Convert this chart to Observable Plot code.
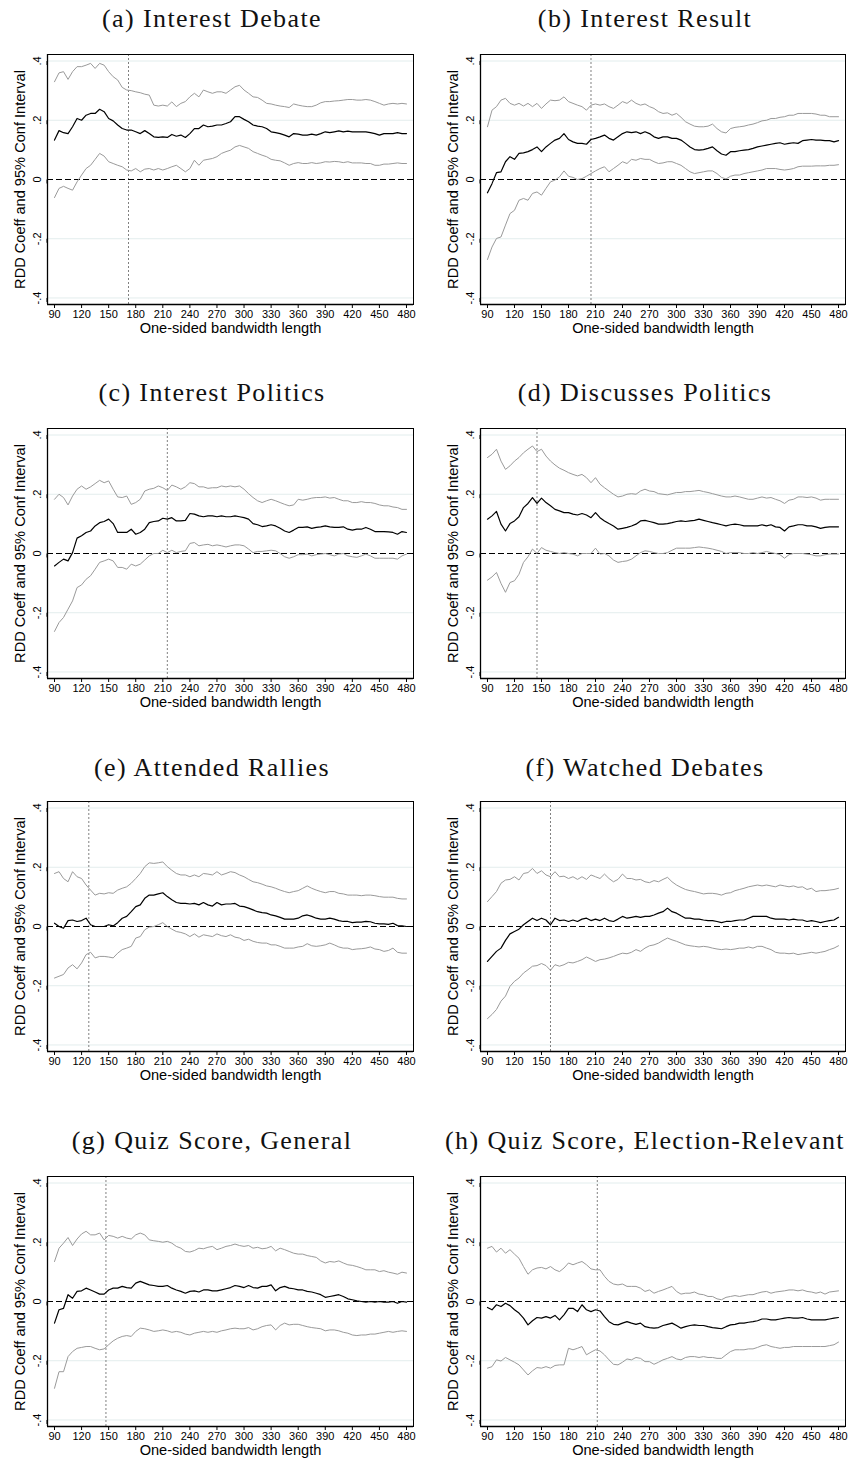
<!DOCTYPE html>
<html><head><meta charset="utf-8">
<script src="https://cdn.jsdelivr.net/npm/d3@7"></script>
<script src="https://cdn.jsdelivr.net/npm/@observablehq/plot@0.6"></script>
<style>
html,body{margin:0;padding:0;background:#fff;overflow:hidden}
#fig{position:relative;width:849px;height:1460px;background:#fff}
.title{position:absolute;font-family:"Liberation Serif","Times New Roman",serif;font-size:26px;letter-spacing:1.4px;white-space:nowrap;transform:translate(-50%,-50%);line-height:1;color:#111}
.panel{position:absolute}
</style></head><body><div id="fig"></div><script>
// shared x grid (one-sided bandwidth length)
const bandwidth = [90,95,100,105,110,115,120,125,130,135,
140,145,150,155,160,165,170,175,180,185,
190,195,200,205,210,215,220,225,230,235,
240,245,250,255,260,265,270,275,280,285,
290,295,300,305,310,315,320,325,330,335,
340,345,350,355,360,365,370,375,380,385,
390,395,400,405,410,415,420,425,430,435,
440,445,450,455,460,465,470,475,480];
const xTicks = [90,120,150,180,210,240,270,300,330,360,390,420,450,480];
const yTicks = [-0.4,-0.2,0,0.2,0.4];
const gridLines = [-0.4,-0.2,0.2,0.4];
const xLabel = "One-sided bandwidth length";
const yLabel = "RDD Coeff and 95% Conf Interval";
const titles = ["(a) Interest Debate","(b) Interest Result","(c) Interest Politics","(d) Discusses Politics",
"(e) Attended Rallies","(f) Watched Debates","(g) Quiz Score, General","(h) Quiz Score, Election-Relevant"];
const optimalBandwidth = [172,205,215,145,128,160,147,212];

// (a) Interest Debate
const a_hi = [.330,.360,.364,.338,.364,.381,.381,.386,.392,.375,
.392,.386,.364,.347,.336,.311,.302,.300,.296,.293,
.288,.285,.251,.248,.251,.248,.262,.246,.257,.263,
.279,.291,.279,.302,.296,.291,.296,.296,.291,.302,
.313,.318,.302,.291,.279,.277,.268,.257,.255,.251,
.248,.246,.243,.255,.251,.248,.246,.246,.251,.259,
.263,.263,.265,.266,.268,.270,.270,.268,.268,.270,
.268,.263,.257,.251,.255,.257,.255,.257,.255];
const a_mid = [.133,.165,.158,.155,.178,.206,.200,.217,.223,.223,
.237,.229,.206,.198,.184,.172,.167,.167,.161,.155,
.165,.155,.144,.142,.144,.142,.152,.146,.150,.142,
.155,.172,.172,.184,.178,.180,.184,.184,.189,.195,
.212,.212,.203,.195,.184,.180,.178,.172,.161,.158,
.155,.150,.144,.155,.153,.150,.150,.153,.150,.155,
.161,.158,.161,.164,.161,.163,.161,.161,.161,.161,
.158,.155,.150,.155,.155,.155,.158,.155,.155];
const a_lo = [-.061,-.030,-.023,-.030,-.036,-.008,.015,.037,.048,.068,
.088,.079,.060,.054,.048,.043,.032,.029,.037,.026,
.035,.037,.032,.037,.032,.037,.043,.048,.037,.026,
.037,.065,.048,.065,.068,.071,.077,.088,.094,.099,
.110,.115,.110,.105,.094,.088,.082,.077,.068,.065,
.063,.056,.048,.054,.057,.054,.054,.057,.054,.056,
.060,.059,.061,.060,.057,.060,.056,.056,.056,.054,
.054,.048,.048,.052,.052,.054,.056,.054,.054];

// (b) Interest Result
const b_hi = [.178,.234,.246,.268,.274,.257,.251,.257,.248,.257,
.246,.257,.240,.255,.268,.266,.268,.279,.263,.257,
.251,.246,.234,.251,.255,.251,.255,.246,.240,.251,
.263,.257,.268,.257,.251,.255,.246,.240,.229,.223,
.225,.217,.223,.210,.195,.187,.180,.178,.178,.180,
.187,.172,.161,.157,.172,.176,.178,.180,.184,.187,
.192,.198,.200,.206,.206,.210,.212,.217,.217,.223,
.223,.223,.223,.221,.217,.217,.212,.212,.212];
const b_mid = [-.045,-.014,.023,.026,.060,.077,.068,.088,.090,.094,
.101,.110,.094,.110,.122,.133,.139,.155,.135,.127,
.122,.122,.119,.135,.139,.144,.150,.139,.133,.144,
.155,.161,.158,.161,.155,.161,.155,.144,.139,.144,
.144,.139,.139,.133,.122,.110,.101,.099,.101,.105,
.110,.097,.086,.082,.094,.094,.097,.099,.101,.105,
.110,.113,.116,.119,.122,.124,.119,.122,.124,.122,
.131,.133,.135,.133,.133,.131,.131,.127,.131];
const b_lo = [-.270,-.228,-.199,-.194,-.154,-.115,-.104,-.070,-.064,-.070,
-.047,-.042,-.053,-.030,-.008,-.002,.009,.029,.011,.007,
.000,.003,.011,.020,.029,.037,.043,.026,.037,.048,
.060,.054,.068,.065,.071,.068,.068,.060,.054,.056,
.060,.060,.054,.048,.037,.026,.020,.023,.026,.029,
.029,.020,.007,.002,.011,.015,.015,.020,.023,.026,
.029,.032,.037,.037,.037,.034,.032,.034,.037,.043,
.045,.045,.045,.046,.046,.046,.048,.048,.050];

// (c) Interest Politics
const c_hi = [.183,.200,.189,.164,.194,.217,.228,.217,.225,.236,
.247,.239,.245,.217,.191,.189,.194,.166,.172,.183,
.211,.217,.220,.228,.222,.213,.231,.225,.217,.225,
.239,.236,.225,.225,.220,.222,.222,.228,.225,.228,
.225,.228,.217,.202,.189,.178,.172,.178,.183,.178,
.172,.166,.161,.164,.183,.180,.183,.187,.189,.189,
.191,.187,.189,.183,.178,.178,.172,.172,.175,.172,
.172,.169,.164,.161,.161,.157,.155,.149,.149];
const c_mid = [-.042,-.030,-.019,-.025,.003,.052,.060,.071,.076,.093,
.104,.108,.116,.101,.071,.071,.071,.082,.065,.071,
.082,.104,.108,.110,.119,.116,.121,.110,.110,.112,
.135,.133,.127,.124,.127,.127,.124,.127,.124,.124,
.127,.124,.121,.116,.101,.097,.091,.093,.097,.093,
.085,.076,.071,.079,.088,.088,.090,.085,.088,.090,
.093,.090,.088,.088,.090,.082,.079,.082,.082,.088,
.082,.074,.074,.074,.073,.071,.065,.074,.071];
const c_lo = [-.263,-.233,-.216,-.188,-.160,-.115,-.106,-.087,-.075,-.053,
-.030,-.025,-.019,-.025,-.047,-.047,-.053,-.036,-.042,-.036,
-.022,-.008,.000,.000,.011,.003,.011,.003,.007,.009,
.034,.037,.026,.029,.031,.026,.029,.026,.022,.026,
.029,.029,.026,.015,.003,.007,.007,.009,.011,.009,
.000,-.011,-.016,-.011,-.004,-.004,-.002,-.008,-.004,-.002,
.000,-.004,-.008,-.002,.000,-.008,-.011,-.013,-.008,-.002,
-.008,-.016,-.016,-.016,-.016,-.016,-.019,-.008,-.002];

// (d) Discusses Politics
const d_hi = [.324,.335,.352,.312,.284,.296,.312,.324,.340,.352,
.363,.344,.352,.329,.312,.299,.288,.281,.273,.267,
.262,.267,.256,.239,.256,.234,.222,.211,.200,.191,
.194,.200,.202,.200,.211,.217,.211,.209,.202,.200,
.198,.202,.206,.206,.209,.209,.211,.213,.209,.206,
.202,.198,.194,.191,.191,.194,.191,.187,.183,.183,
.187,.191,.187,.189,.183,.178,.169,.180,.183,.191,
.191,.189,.191,.187,.180,.183,.183,.183,.183];
const d_mid = [.116,.127,.142,.099,.076,.101,.110,.124,.155,.169,
.189,.169,.187,.172,.161,.149,.144,.138,.138,.133,
.130,.135,.130,.121,.138,.121,.110,.101,.093,.082,
.085,.088,.093,.099,.110,.112,.108,.104,.099,.099,
.101,.104,.108,.110,.108,.110,.112,.116,.112,.108,
.104,.101,.097,.093,.097,.099,.097,.093,.093,.093,
.093,.097,.093,.097,.090,.088,.076,.090,.093,.097,
.097,.093,.093,.090,.085,.088,.090,.090,.090];
const d_lo = [-.090,-.079,-.064,-.101,-.131,-.098,-.092,-.070,-.030,-.011,
.015,.000,.020,.011,.007,.003,.000,.003,.000,-.002,
-.008,.000,.000,.000,.018,-.002,.000,-.008,-.022,-.030,
-.027,-.025,-.019,-.008,.003,.009,.007,.003,.000,.000,
.003,.011,.018,.018,.018,.018,.020,.022,.020,.018,
.015,.011,.007,.000,.003,.003,.003,.000,.000,.003,
.000,.003,.007,.003,.000,-.004,-.016,-.004,.000,.000,
.000,-.002,-.004,-.008,-.008,-.004,-.002,-.002,-.002];

// (e) Attended Rallies
const e_hi = [.179,.185,.162,.151,.185,.168,.162,.140,.123,.106,
.112,.110,.114,.112,.123,.129,.134,.146,.162,.179,
.202,.215,.213,.215,.218,.202,.190,.179,.174,.174,
.168,.174,.168,.179,.177,.174,.185,.174,.179,.185,
.182,.174,.168,.159,.151,.148,.143,.137,.134,.129,
.123,.118,.114,.118,.121,.129,.137,.129,.123,.118,
.114,.118,.118,.112,.110,.106,.106,.106,.104,.106,
.106,.104,.101,.099,.099,.099,.095,.093,.093];
const e_mid = [.011,.000,-.006,.020,.022,.017,.020,.028,.006,.000,
.000,.000,.006,.002,.013,.028,.034,.050,.067,.073,
.095,.106,.106,.110,.114,.101,.090,.081,.078,.078,
.076,.078,.073,.081,.073,.069,.081,.073,.076,.076,
.078,.069,.067,.062,.056,.050,.047,.045,.039,.036,
.031,.025,.025,.025,.028,.036,.039,.034,.028,.025,
.025,.028,.025,.020,.017,.017,.013,.015,.015,.017,
.016,.011,.009,.009,.007,.011,.003,.002,.000];
const e_lo = [-.174,-.168,-.162,-.140,-.129,-.143,-.123,-.095,-.087,-.106,
-.101,-.101,-.103,-.106,-.090,-.078,-.073,-.067,-.039,-.034,
-.011,-.002,.000,.006,.013,.000,-.009,-.017,-.020,-.025,
-.034,-.025,-.036,-.028,-.031,-.034,-.025,-.031,-.034,-.028,
-.036,-.039,-.047,-.043,-.050,-.054,-.056,-.056,-.062,-.062,
-.067,-.073,-.073,-.073,-.069,-.067,-.058,-.065,-.067,-.065,
-.062,-.056,-.062,-.069,-.073,-.073,-.078,-.076,-.075,-.073,
-.069,-.076,-.078,-.084,-.081,-.073,-.087,-.090,-.090];

// (f) Watched Debates
const f_hi = [.084,.101,.118,.146,.157,.159,.168,.157,.179,.182,
.196,.179,.188,.174,.168,.185,.168,.170,.162,.168,
.159,.168,.159,.174,.168,.162,.177,.162,.151,.159,
.177,.162,.162,.157,.159,.151,.148,.155,.151,.159,
.166,.151,.140,.132,.125,.121,.118,.114,.110,.112,
.112,.110,.106,.112,.114,.121,.125,.129,.134,.137,
.140,.137,.140,.137,.134,.140,.137,.134,.137,.132,
.134,.125,.129,.118,.121,.121,.123,.125,.129];
const f_mid = [-.118,-.101,-.084,-.073,-.047,-.025,-.017,-.009,.006,.017,
.028,.020,.028,.022,.006,.028,.020,.022,.017,.022,
.017,.025,.028,.020,.025,.020,.028,.020,.017,.025,
.034,.028,.031,.034,.031,.034,.034,.039,.045,.050,
.062,.050,.045,.036,.028,.028,.025,.025,.022,.020,
.020,.017,.013,.017,.017,.020,.022,.022,.028,.034,
.034,.034,.034,.028,.025,.025,.025,.022,.025,.022,
.022,.017,.020,.017,.013,.017,.020,.022,.031];
const f_lo = [-.311,-.297,-.280,-.252,-.235,-.202,-.185,-.174,-.157,-.146,
-.134,-.132,-.125,-.132,-.148,-.129,-.134,-.129,-.121,-.123,
-.118,-.112,-.103,-.110,-.118,-.112,-.110,-.106,-.101,-.095,
-.090,-.092,-.087,-.078,-.084,-.073,-.065,-.062,-.056,-.047,
-.039,-.045,-.050,-.056,-.062,-.065,-.067,-.069,-.067,-.069,
-.073,-.076,-.078,-.076,-.078,-.076,-.073,-.073,-.069,-.073,
-.067,-.067,-.073,-.078,-.087,-.090,-.090,-.092,-.090,-.095,
-.092,-.090,-.087,-.090,-.087,-.084,-.078,-.073,-.065];

// (g) Quiz Score, General
const g_hi = [.135,.180,.197,.216,.189,.211,.228,.237,.225,.225,
.231,.208,.223,.220,.214,.220,.214,.211,.225,.231,
.225,.208,.205,.203,.200,.203,.197,.186,.180,.169,
.167,.172,.180,.178,.183,.186,.175,.180,.186,.189,
.194,.189,.186,.189,.180,.183,.178,.180,.186,.171,
.180,.175,.169,.163,.160,.160,.155,.152,.149,.137,
.130,.135,.133,.137,.130,.124,.122,.118,.113,.107,
.107,.107,.101,.104,.099,.096,.092,.099,.096];
const g_mid = [-.073,-.028,-.023,.023,.011,.034,.036,.045,.039,.032,
.025,.025,.039,.045,.045,.051,.047,.045,.062,.068,
.062,.056,.054,.051,.051,.054,.045,.039,.034,.028,
.034,.036,.032,.039,.039,.036,.036,.039,.043,.047,
.054,.051,.047,.054,.047,.045,.051,.051,.056,.036,
.047,.051,.045,.043,.039,.039,.034,.032,.028,.023,
.014,.017,.020,.023,.017,.009,.006,.002,.000,-.002,
.000,-.002,.000,-.002,-.002,.000,-.006,.000,-.002];
const g_lo = [-.293,-.237,-.237,-.186,-.169,-.158,-.155,-.152,-.152,-.158,
-.163,-.160,-.146,-.133,-.124,-.118,-.115,-.118,-.101,-.090,
-.092,-.096,-.101,-.099,-.096,-.099,-.104,-.101,-.104,-.110,
-.113,-.107,-.104,-.101,-.104,-.101,-.104,-.099,-.096,-.092,
-.090,-.092,-.092,-.088,-.096,-.092,-.085,-.081,-.079,-.096,
-.081,-.073,-.079,-.077,-.077,-.081,-.085,-.088,-.090,-.092,
-.099,-.096,-.096,-.099,-.104,-.107,-.113,-.115,-.113,-.113,
-.110,-.110,-.107,-.104,-.101,-.104,-.101,-.099,-.101];

// (h) Quiz Score, Election-Relevant
const h_hi = [.180,.186,.167,.180,.163,.175,.160,.146,.118,.092,
.107,.113,.115,.110,.118,.107,.101,.113,.130,.124,
.130,.135,.124,.110,.107,.107,.085,.068,.059,.056,
.059,.051,.051,.051,.045,.034,.039,.028,.034,.039,
.045,.051,.034,.025,.028,.028,.032,.025,.023,.017,
.017,.009,.006,.014,.017,.020,.017,.020,.023,.023,
.028,.032,.034,.028,.032,.034,.036,.039,.039,.036,
.039,.034,.032,.028,.032,.025,.032,.034,.036];
const h_mid = [-.020,-.028,-.011,-.017,-.006,-.014,-.028,-.039,-.056,-.079,
-.065,-.054,-.056,-.051,-.056,-.047,-.062,-.045,-.023,-.023,
-.034,-.011,-.028,-.034,-.028,-.032,-.051,-.068,-.077,-.079,
-.073,-.068,-.073,-.077,-.073,-.085,-.088,-.090,-.088,-.081,
-.077,-.073,-.081,-.090,-.085,-.081,-.079,-.081,-.081,-.085,
-.088,-.090,-.092,-.085,-.079,-.077,-.073,-.073,-.070,-.068,
-.065,-.059,-.059,-.062,-.062,-.059,-.056,-.054,-.056,-.056,
-.054,-.059,-.062,-.062,-.062,-.062,-.059,-.056,-.054];
const h_lo = [-.225,-.220,-.197,-.201,-.189,-.197,-.205,-.214,-.231,-.248,
-.234,-.223,-.225,-.220,-.225,-.216,-.214,-.214,-.158,-.163,
-.158,-.152,-.180,-.171,-.163,-.167,-.180,-.197,-.212,-.214,
-.205,-.194,-.197,-.189,-.192,-.203,-.203,-.212,-.205,-.197,
-.192,-.186,-.194,-.197,-.189,-.186,-.186,-.189,-.186,-.189,
-.189,-.192,-.192,-.180,-.169,-.163,-.163,-.163,-.160,-.160,
-.155,-.149,-.146,-.152,-.155,-.158,-.155,-.155,-.152,-.152,
-.152,-.152,-.152,-.152,-.152,-.152,-.149,-.146,-.137];

const upper = [a_hi,b_hi,c_hi,d_hi,e_hi,f_hi,g_hi,h_hi];
const coef  = [a_mid,b_mid,c_mid,d_mid,e_mid,f_mid,g_mid,h_mid];
const lower = [a_lo,b_lo,c_lo,d_lo,e_lo,f_lo,g_lo,h_lo];

// layout
const frameTops = [54, 428, 801, 1176];
const titleYs = [19, 392.5, 767.5, 1141];
const fmt = d => d === 0 ? "0" : (d < 0 ? "-" : "") + String(Math.abs(d)).replace(/^0/, "");

const fig = document.getElementById("fig");

function makePanel(k) {
  const col = k % 2, row = Math.floor(k / 2);
  const data = bandwidth.map((b, i) => ({b, hi: upper[k][i], mid: coef[k][i], lo: lower[k][i]}));
  const ml = col === 0 ? 47 : 48, mr = col === 0 ? 12 : 4, w = col === 0 ? 425 : 417;
  const xDom = [82.24, 487.76], yDom = [-0.422, 0.422];
  const svg = Plot.plot({
    width: w, height: 292, marginTop: 10, marginBottom: 32, marginLeft: ml, marginRight: mr,
    style: {fontFamily: "'Liberation Sans', Arial, sans-serif", background: "transparent", overflow: "visible", color: "#000"},
    x: {domain: xDom},
    y: {domain: yDom},
    marks: [
      Plot.ruleY(gridLines, {stroke: "#e3eded", strokeWidth: 1}),
      Plot.ruleX([optimalBandwidth[k]], {stroke: "#808080", strokeDasharray: "2,2", strokeWidth: 1}),
      Plot.ruleY([0], {stroke: "#000", strokeDasharray: "6,3", strokeWidth: 1}),
      Plot.line(data, {x: "b", y: "hi", stroke: "#9a9a9a", strokeWidth: 1}),
      Plot.line(data, {x: "b", y: "lo", stroke: "#9a9a9a", strokeWidth: 1}),
      Plot.line(data, {x: "b", y: "mid", stroke: "#000", strokeWidth: 1.2}),
      Plot.frame({stroke: "#000", strokeWidth: 1}),
      Plot.ruleX([xDom[0]], {stroke: "#000", strokeWidth: 1.3}),
      Plot.ruleY([yDom[0]], {stroke: "#000", strokeWidth: 1.3}),
      Plot.axisX(xTicks, {tickSize: 4, tickPadding: 2, fontSize: 11, label: null, tickFormat: d => String(d)}),
      Plot.axisY(yTicks, {tickSize: 4, tickPadding: 6.5, fontSize: 11, rotate: -90, textAnchor: "middle", tickFormat: fmt, label: null}),
      Plot.text([xLabel], {text: d => d, frameAnchor: "bottom", dy: 24, lineAnchor: "middle", textAnchor: "middle", fontSize: 14.6}),
      Plot.text([yLabel], {text: d => d, frameAnchor: "left", dx: -27, rotate: -90, lineAnchor: "middle", textAnchor: "middle", fontSize: 14.6})
    ]
  });
  svg.classList.add("panel");
  svg.style.left = (col === 0 ? 0 : 432) + "px";
  svg.style.top = (frameTops[row] - 10) + "px";
  fig.appendChild(svg);

  const t = document.createElement("div");
  t.className = "title";
  t.textContent = titles[k];
  t.style.left = (col === 0 ? 212 : 645) + "px";
  t.style.top = titleYs[row] + "px";
  fig.appendChild(t);
}
for (let k = 0; k < 8; k++) makePanel(k);
</script></body></html>
